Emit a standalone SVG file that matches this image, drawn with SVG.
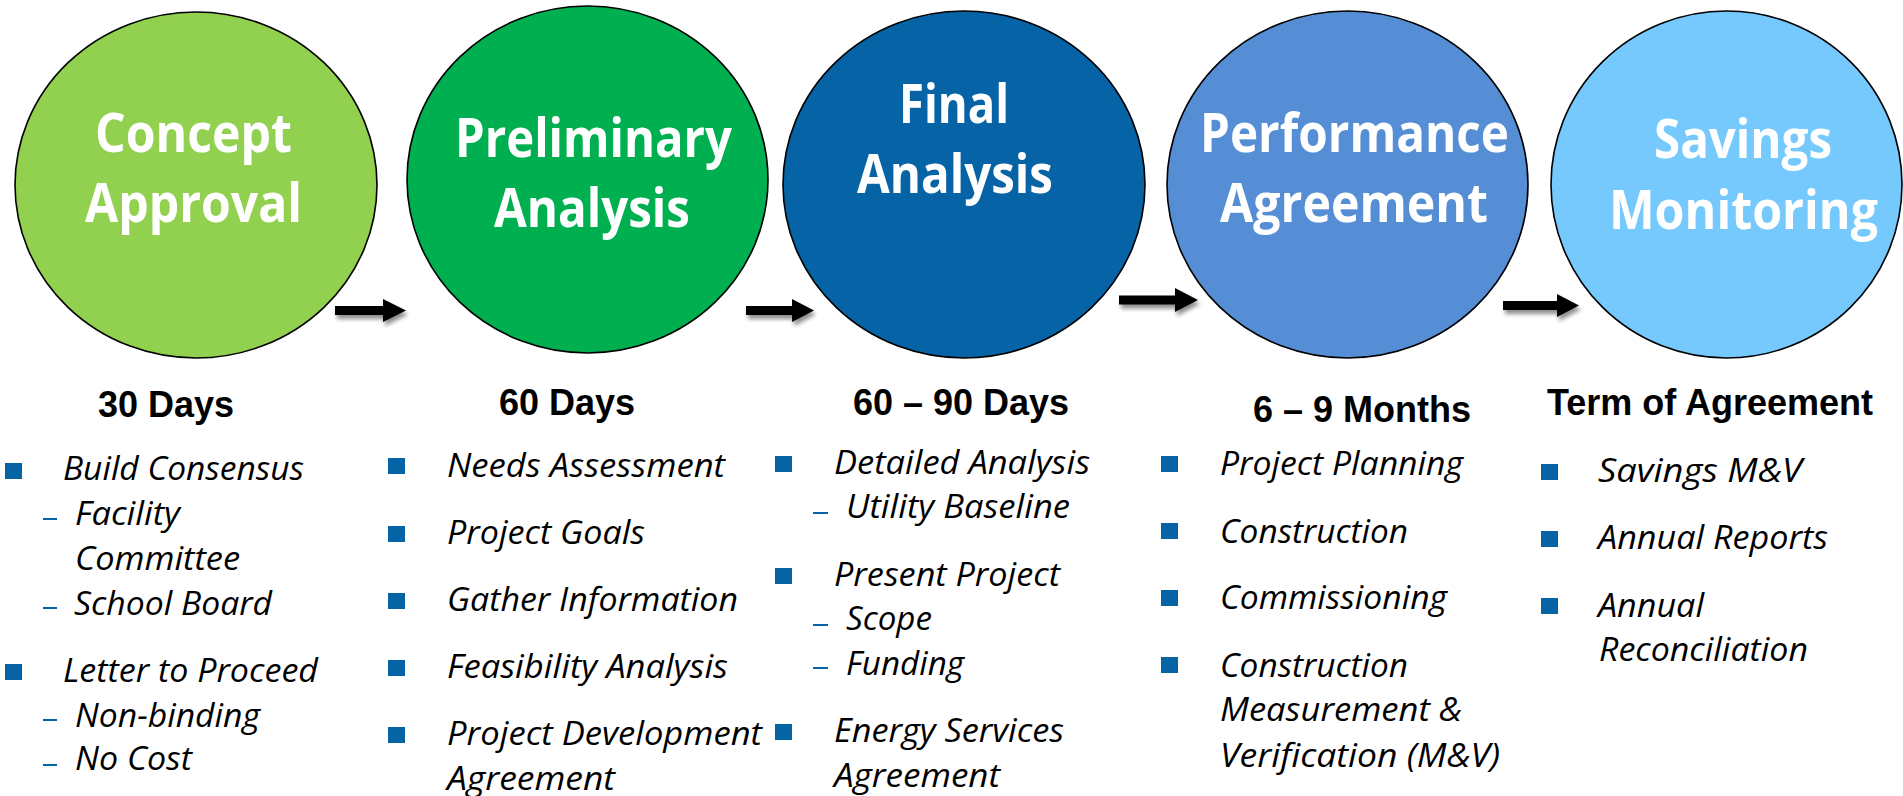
<svg xmlns="http://www.w3.org/2000/svg" width="1903" height="796" viewBox="0 0 1903 796">
<defs>
<filter id="shadow" x="-20%" y="-50%" width="150%" height="250%">
<feGaussianBlur in="SourceAlpha" stdDeviation="2"/>
<feOffset dx="2" dy="4" result="b"/>
<feComponentTransfer><feFuncA type="linear" slope="0.45"/></feComponentTransfer>
<feMerge><feMergeNode/><feMergeNode in="SourceGraphic"/></feMerge>
</filter>
</defs>
<style>
.circle{stroke:#000;stroke-width:1.6}
.title{font-family:"Open Sans","Liberation Sans",sans-serif;font-weight:bold;font-size:54px;fill:#fff}
.head{font-family:"Liberation Sans",Arial,sans-serif;font-weight:bold;font-size:36px;fill:#000;text-anchor:middle}
.item{font-family:"Open Sans","Liberation Sans",sans-serif;font-style:italic;font-size:32px;fill:#000}
.bullet{fill:#0563A6}
.dash{stroke:#0563A6;stroke-width:2}
.arrow{fill:#000;filter:url(#shadow)}
</style>
<rect width="1903" height="796" fill="#fff"/>

<g id="connectors">
<path class="arrow" d="M335,306 H383 V299 L406,310.5 L383,322 V315 H335 Z"/>
<path class="arrow" d="M746,306 H792 V299 L814,310.5 L792,322 V315 H746 Z"/>
<path class="arrow" d="M1119,295.5 H1175 V288 L1198,300 L1175,312 V304.5 H1119 Z"/>
<path class="arrow" d="M1503,301 H1557 V294 L1579,305.5 L1557,317 V310 H1503 Z"/>
</g>

<g id="node-concept">
<ellipse class="circle" cx="196" cy="185" rx="181" ry="173" fill="#92D050"/>
<text class="title" x="95" y="152" textLength="197" lengthAdjust="spacingAndGlyphs">Concept</text>
<text class="title" x="85" y="222" textLength="217" lengthAdjust="spacingAndGlyphs">Approval</text>
</g>

<g id="node-preliminary">
<ellipse class="circle" cx="587.5" cy="179.5" rx="180.5" ry="173.5" fill="#00B050"/>
<text class="title" x="455" y="157" textLength="277" lengthAdjust="spacingAndGlyphs">Preliminary</text>
<text class="title" x="494" y="227" textLength="196" lengthAdjust="spacingAndGlyphs">Analysis</text>
</g>

<g id="node-final">
<ellipse class="circle" cx="964" cy="184.5" rx="181" ry="173.5" fill="#0563A6"/>
<text class="title" x="899" y="123" textLength="110" lengthAdjust="spacingAndGlyphs">Final</text>
<text class="title" x="857" y="193" textLength="196" lengthAdjust="spacingAndGlyphs">Analysis</text>
</g>

<g id="node-performance">
<ellipse class="circle" cx="1347.5" cy="184.5" rx="180.5" ry="173.5" fill="#558ED5"/>
<text class="title" x="1200" y="152" textLength="309" lengthAdjust="spacingAndGlyphs">Performance</text>
<text class="title" x="1220" y="222" textLength="268" lengthAdjust="spacingAndGlyphs">Agreement</text>
</g>

<g id="node-savings">
<ellipse class="circle" cx="1726.5" cy="184.5" rx="175.5" ry="173.5" fill="#75C9FD"/>
<text class="title" x="1654" y="158" textLength="178" lengthAdjust="spacingAndGlyphs">Savings</text>
<text class="title" x="1609" y="229" textLength="269" lengthAdjust="spacingAndGlyphs">Monitoring</text>
</g>

<g id="list-concept">
<text class="head" x="166" y="417">30 Days</text>
<rect class="bullet" x="5" y="463" width="17" height="16"/>
<text class="item" x="63" y="480" textLength="241" lengthAdjust="spacingAndGlyphs">Build Consensus</text>
<line class="dash" x1="43" y1="519" x2="57" y2="519"/>
<text class="item" x="75" y="525" textLength="105" lengthAdjust="spacingAndGlyphs">Facility</text>
<text class="item" x="75" y="570" textLength="165" lengthAdjust="spacingAndGlyphs">Committee</text>
<line class="dash" x1="43" y1="608" x2="57" y2="608"/>
<text class="item" x="74" y="615" textLength="198" lengthAdjust="spacingAndGlyphs">School Board</text>
<rect class="bullet" x="5" y="664" width="17" height="16"/>
<text class="item" x="63" y="682" textLength="255" lengthAdjust="spacingAndGlyphs">Letter to Proceed</text>
<line class="dash" x1="43" y1="720" x2="57" y2="720"/>
<text class="item" x="75" y="727" textLength="185" lengthAdjust="spacingAndGlyphs">Non-binding</text>
<line class="dash" x1="43" y1="765" x2="57" y2="765"/>
<text class="item" x="75" y="770" textLength="117" lengthAdjust="spacingAndGlyphs">No Cost</text>
</g>

<g id="list-preliminary">
<text class="head" x="567" y="415">60 Days</text>
<rect class="bullet" x="388" y="458" width="17" height="16"/>
<text class="item" x="447" y="477" textLength="278" lengthAdjust="spacingAndGlyphs">Needs Assessment</text>
<rect class="bullet" x="388" y="526" width="17" height="16"/>
<text class="item" x="447" y="544" textLength="198" lengthAdjust="spacingAndGlyphs">Project Goals</text>
<rect class="bullet" x="388" y="593" width="17" height="16"/>
<text class="item" x="447" y="611" textLength="291" lengthAdjust="spacingAndGlyphs">Gather Information</text>
<rect class="bullet" x="388" y="660" width="17" height="16"/>
<text class="item" x="447" y="678" textLength="281" lengthAdjust="spacingAndGlyphs">Feasibility Analysis</text>
<rect class="bullet" x="388" y="727" width="17" height="16"/>
<text class="item" x="447" y="745" textLength="315" lengthAdjust="spacingAndGlyphs">Project Development</text>
<text class="item" x="447" y="790" textLength="168" lengthAdjust="spacingAndGlyphs">Agreement</text>
</g>

<g id="list-final">
<text class="head" x="961" y="415">60 – 90 Days</text>
<rect class="bullet" x="775" y="456" width="17" height="16"/>
<text class="item" x="834" y="474" textLength="256" lengthAdjust="spacingAndGlyphs">Detailed Analysis</text>
<line class="dash" x1="813" y1="513" x2="828" y2="513"/>
<text class="item" x="846" y="518" textLength="224" lengthAdjust="spacingAndGlyphs">Utility Baseline</text>
<rect class="bullet" x="775" y="568" width="17" height="16"/>
<text class="item" x="834" y="586" textLength="226" lengthAdjust="spacingAndGlyphs">Present Project</text>
<line class="dash" x1="813" y1="625" x2="828" y2="625"/>
<text class="item" x="846" y="630" textLength="86" lengthAdjust="spacingAndGlyphs">Scope</text>
<line class="dash" x1="813" y1="668" x2="828" y2="668"/>
<text class="item" x="846" y="675" textLength="118" lengthAdjust="spacingAndGlyphs">Funding</text>
<rect class="bullet" x="775" y="724" width="17" height="16"/>
<text class="item" x="834" y="742" textLength="230" lengthAdjust="spacingAndGlyphs">Energy Services</text>
<text class="item" x="834" y="787" textLength="166" lengthAdjust="spacingAndGlyphs">Agreement</text>
</g>

<g id="list-performance">
<text class="head" x="1362" y="422">6 – 9 Months</text>
<rect class="bullet" x="1161" y="456" width="17" height="16"/>
<text class="item" x="1220" y="475" textLength="243" lengthAdjust="spacingAndGlyphs">Project Planning</text>
<rect class="bullet" x="1161" y="523" width="17" height="16"/>
<text class="item" x="1220" y="543" textLength="188" lengthAdjust="spacingAndGlyphs">Construction</text>
<rect class="bullet" x="1161" y="590" width="17" height="16"/>
<text class="item" x="1220" y="609" textLength="227" lengthAdjust="spacingAndGlyphs">Commissioning</text>
<rect class="bullet" x="1161" y="657" width="17" height="16"/>
<text class="item" x="1220" y="677" textLength="188" lengthAdjust="spacingAndGlyphs">Construction</text>
<text class="item" x="1220" y="721" textLength="242" lengthAdjust="spacingAndGlyphs">Measurement &amp;</text>
<text class="item" x="1220" y="767" textLength="280" lengthAdjust="spacingAndGlyphs">Verification (M&amp;V)</text>
</g>

<g id="list-savings">
<text class="head" x="1710" y="415">Term of Agreement</text>
<rect class="bullet" x="1541" y="464" width="17" height="16"/>
<text class="item" x="1598" y="482" textLength="204" lengthAdjust="spacingAndGlyphs">Savings M&amp;V</text>
<rect class="bullet" x="1541" y="531" width="17" height="16"/>
<text class="item" x="1598" y="549" textLength="230" lengthAdjust="spacingAndGlyphs">Annual Reports</text>
<rect class="bullet" x="1541" y="598" width="17" height="16"/>
<text class="item" x="1598" y="617" textLength="106" lengthAdjust="spacingAndGlyphs">Annual</text>
<text class="item" x="1599" y="661" textLength="209" lengthAdjust="spacingAndGlyphs">Reconciliation</text>
</g>
</svg>
